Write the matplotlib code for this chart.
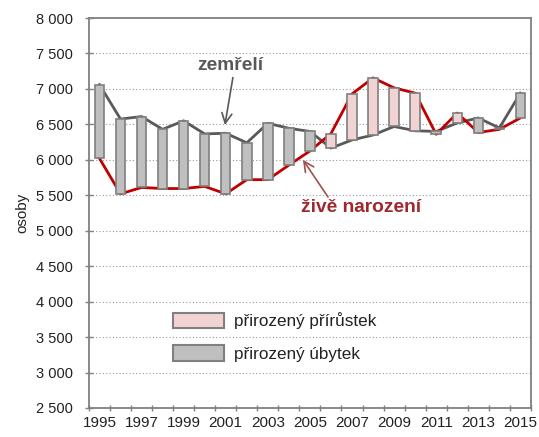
import matplotlib
matplotlib.use("Agg")
import matplotlib.pyplot as plt
import matplotlib.patches as mpatches
import numpy as np

plt.rcParams['font.family'] = ['Liberation Sans', 'DejaVu Sans']

years = list(range(1995, 2016))
births = [6020, 5520, 5610, 5595, 5595, 5625, 5520, 5720, 5720, 5925, 6125,
          6370, 6930, 7155, 7015, 6940, 6360, 6660, 6385, 6430, 6590]
deaths = [7060, 6575, 6610, 6430, 6550, 6365, 6375, 6240, 6515, 6445, 6400,
          6165, 6280, 6350, 6470, 6410, 6400, 6520, 6590, 6450, 6940]
yticks = list(range(2500, 8001, 500))
legend_labels = ['přirozený přírůstek', 'přirozený úbytek']

fig = plt.figure(figsize=(5.39, 4.37), dpi=100)
ax = fig.add_axes([0.165, 0.0664, 0.82, 0.8924])

x = np.arange(len(years))
b = np.array(births)
d = np.array(deaths)
low = np.minimum(b, d)
high = np.maximum(b, d)
pink = '#F2D3D3'
grey = '#BFBFBF'
cols = [pink if bb > dd else grey for bb, dd in zip(b, d)]

ax.plot(x, d, color='#595959', lw=2, zorder=2)
ax.plot(x, b, color='#C00000', lw=2, zorder=2)
ax.bar(x, high - low, bottom=low, width=0.45, color=cols,
       edgecolor='#7F7F7F', linewidth=1.2, zorder=3)

ax.set_xlim(-0.5, len(years) - 0.5)
ax.set_ylim(2500, 8000)
ax.set_yticks(yticks)
ax.set_yticklabels([f"{v:,}".replace(',', ' ') for v in yticks], fontsize=10.5, color='#222222')
ax.set_xticks(x[::2])
ax.set_xticklabels([str(y) for y in years[::2]], fontsize=11, color='#222222')
ax.set_xticks(np.arange(-0.5, len(years), 1), minor=True)
ax.tick_params(axis='x', which='major', length=0, pad=6)
ax.tick_params(axis='x', which='minor', length=5, width=1, color='#808080', direction='inout')
ax.tick_params(axis='y', length=6, width=1, color='#808080', direction='inout', pad=8.5)

for v in yticks[1:-1]:
    ax.axhline(v, color='#999999', lw=0.8, ls=(0, (1, 2)), zorder=1)

for s in ax.spines.values():
    s.set_color('#808080')
    s.set_linewidth(1.3)

ax.set_ylabel('osoby', fontsize=11, color='#222222', labelpad=5)

ax.text(6.2, 7330, 'zemřelí', fontsize=13.8, fontweight='bold', color='#595959',
        ha='center', va='center')
ax.annotate('', xy=(5.96, 6490), xytext=(6.34, 7160),
            arrowprops=dict(arrowstyle='->', color='#595959', lw=1.2,
                            shrinkA=0, shrinkB=0, mutation_scale=18))
ax.text(12.42, 5330, 'živě narození', fontsize=13.8, fontweight='bold', color='#A0282D',
        ha='center', va='center')
ax.annotate('', xy=(9.67, 6000), xytext=(10.86, 5475),
            arrowprops=dict(arrowstyle='->', color='#A05050', lw=1.2,
                            shrinkA=0, shrinkB=0, mutation_scale=18))

handles = [mpatches.Patch(facecolor=pink, edgecolor='#808080', lw=1.5),
           mpatches.Patch(facecolor=grey, edgecolor='#808080', lw=1.5)]
ax.legend(handles, legend_labels, loc='upper left', bbox_to_anchor=(0.155, 0.285),
          frameon=False, fontsize=12.3, handlelength=3.0, handleheight=1.0,
          handletextpad=0.6, labelspacing=0.95, labelcolor='#222222')

fig.savefig('out.png', dpi=100)
